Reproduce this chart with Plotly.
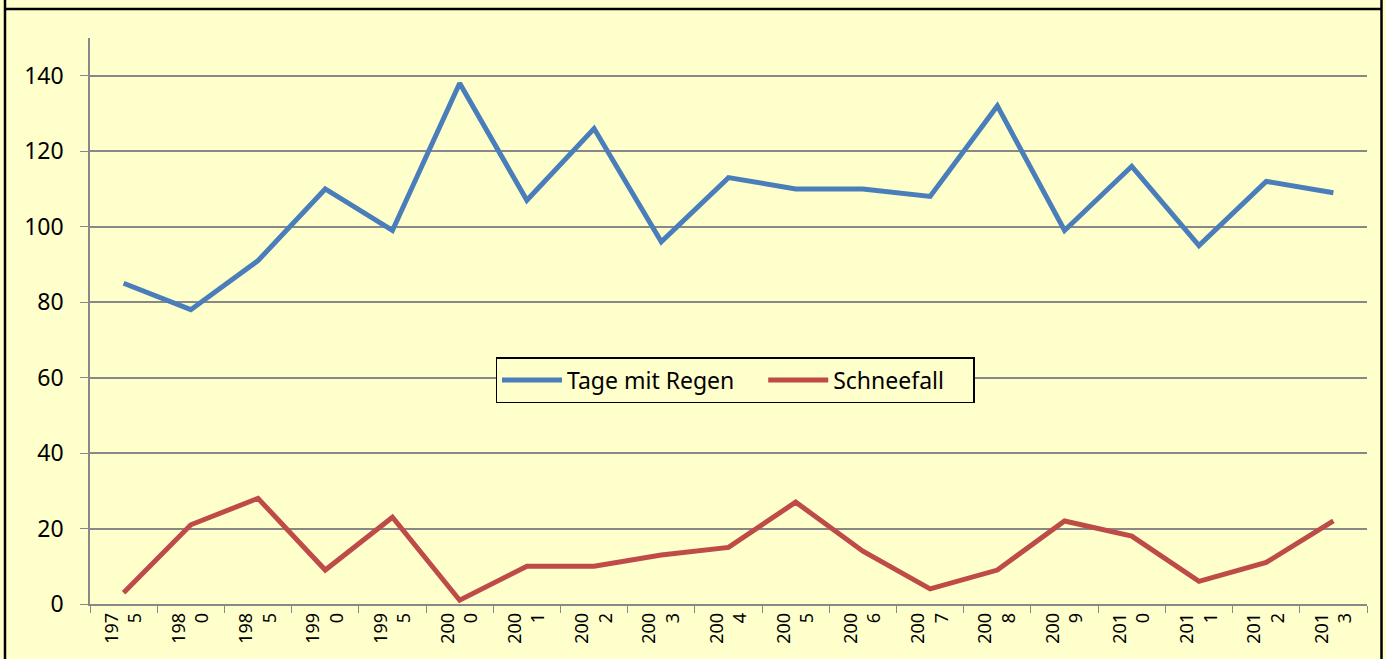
import plotly.graph_objects as go

years = ["197<br>5", "198<br>0", "198<br>5", "199<br>0", "199<br>5", "200<br>0", "200<br>1", "200<br>2",
         "200<br>3", "200<br>4", "200<br>5", "200<br>6", "200<br>7", "200<br>8", "200<br>9", "201<br>0",
         "201<br>1", "201<br>2", "201<br>3"]
regen = [85, 78, 91, 110, 99, 138, 107, 126, 96, 113, 110, 110, 108, 132, 99, 116, 95, 112, 109]
schnee = [3, 21, 28, 9, 23, 1, 10, 10, 13, 15, 27, 14, 4, 9, 22, 18, 6, 11, 22]
series_names = ["Tage mit Regen", "Schneefall"]

W, H = 1386, 659
L, R, T, B = 90, 19, 38, 55
PAD = "\u00a0" * 4

fig = go.Figure()
fig.add_trace(go.Scatter(x=years, y=regen, mode="lines", name=series_names[0] + PAD,
                         line=dict(color="#4A7EBB", width=5)))
fig.add_trace(go.Scatter(x=years, y=schnee, mode="lines", name=series_names[1] + PAD,
                         line=dict(color="#BE4B48", width=5)))

def px(x):
    return (x - L) / (W - L - R)

def py(y):
    return (H - B - y) / (H - T - B)

fig.update_layout(
    width=W, height=H,
    margin=dict(l=L, r=R, t=T, b=B, autoexpand=False),
    paper_bgcolor="#FFFFCC", plot_bgcolor="#FFFFCC",
    font=dict(family="Noto Sans, Liberation Sans, sans-serif", color="black"),
    showlegend=True,
    legend=dict(orientation="h", x=px(735), y=py(380), xanchor="center", yanchor="middle",
                bgcolor="#FFFFCC", bordercolor="black", borderwidth=1.5,
                font=dict(size=23), itemwidth=60),
    xaxis=dict(type="category", tickangle=-90, tickfont=dict(size=18),
               range=[-0.5, len(years) - 0.5],
               showgrid=False, showline=True, linecolor="#888888", linewidth=1.5,
               ticks="outside", tickson="boundaries", ticklen=7, tickcolor="#888888",
               zeroline=False),
    yaxis=dict(range=[0, 150], tickvals=[0, 20, 40, 60, 80, 100, 120, 140],
               tickfont=dict(size=23), showgrid=True, gridcolor="#888888", gridwidth=1.5,
               showline=True, linecolor="#888888", linewidth=1.5,
               ticks="outside", ticklen=8, tickcolor="#888888", zeroline=False,
               ticklabelstandoff=12),
)

# outer frame lines
fig.add_shape(type="line", xref="paper", yref="paper", x0=px(5), x1=px(5), y0=py(-5), y1=py(665),
              line=dict(color="black", width=2.5))
fig.add_shape(type="line", xref="paper", yref="paper", x0=px(1381.5), x1=px(1381.5), y0=py(-5), y1=py(665),
              line=dict(color="black", width=2.5))
fig.add_shape(type="line", xref="paper", yref="paper", x0=px(5), x1=px(1381.5), y0=py(9), y1=py(9),
              line=dict(color="black", width=2.5))

fig.write_html("out.html", config={"displayModeBar": False},
               post_script="document.body.style.margin='0';")
